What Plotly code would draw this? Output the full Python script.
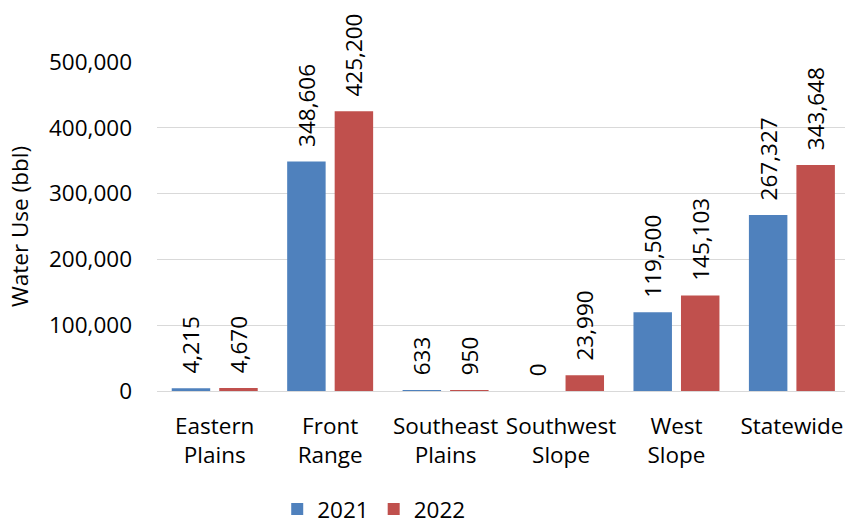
import plotly.graph_objects as go

categories = ["Eastern<br>Plains", "Front<br>Range", "Southeast<br>Plains", "Southwest<br>Slope", "West<br>Slope", "Statewide"]
values_2021 = [4215, 348606, 633, 0, 119500, 267327]
values_2022 = [4670, 425200, 950, 23990, 145103, 343648]
series_names = ["2021", "2022"]
colors = ["#4F81BD", "#C0504D"]
y_ticks = [0, 100000, 200000, 300000, 400000, 500000]

FONT = "Open Sans"
FS = 22.5
PAD = "\u00a0\u00a0"

fig = go.Figure()
for name, vals, col in zip(series_names, [values_2021, values_2022], colors):
    fig.add_trace(go.Bar(
        x=categories, y=vals, name=name, marker_color=col,
        marker_line_width=0,
        text=[PAD + f"{v:,}" for v in vals], textposition="outside", textangle=-90,
        textfont=dict(family=FONT, size=FS, color="#000000"),
        cliponaxis=False, constraintext="none",
    ))

fig.update_layout(
    width=845, height=524,
    margin=dict(l=157, r=0, t=62, b=133, autoexpand=False),
    paper_bgcolor="white", plot_bgcolor="white",
    barmode="group", bargap=0.177, bargroupgap=0.19,
    font=dict(family=FONT, size=FS, color="#000000"),
    showlegend=True,
    legend=dict(orientation="h", x=0.315, xanchor="center", y=-0.36, yanchor="middle",
                font=dict(family=FONT, size=FS), itemwidth=30, traceorder="normal"),
)
fig.update_xaxes(range=[-0.5, 5.46], showgrid=False, showline=False, ticks="",
                 ticklabelstandoff=19, tickfont=dict(family=FONT, size=FS))
fig.update_yaxes(range=[0, 500000], tickvals=y_ticks, tickformat=",", showgrid=True,
                 gridcolor="#D9D9D9", gridwidth=1, zeroline=True, zerolinecolor="#D9D9D9",
                 zerolinewidth=1, showline=False, ticks="", ticklabelstandoff=24,
                 tickfont=dict(family=FONT, size=FS),
                 title=dict(text="Water Use (bbl)", font=dict(family=FONT, size=FS), standoff=14))

fig.write_html("out.html")
